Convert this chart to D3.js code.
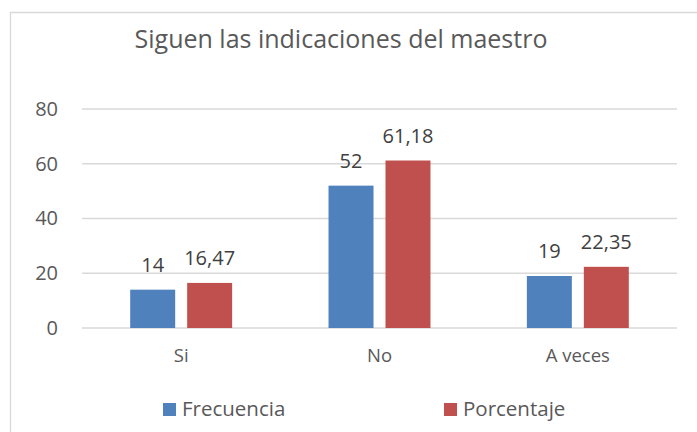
<!DOCTYPE html>
<html>
<head>
<meta charset="utf-8">
<script src="https://cdn.jsdelivr.net/npm/d3@7/dist/d3.min.js"></script>
<style>
  html, body { margin: 0; padding: 0; background: #fff; }
  svg { display: block; font-family: "Open Sans", "Noto Sans", sans-serif; }
</style>
</head>
<body>
<svg id="chart" width="697" height="432"></svg>
<script>
const title = "Siguen las indicaciones del maestro";
const categories = ["Si", "No", "A veces"];
const seriesNames = ["Frecuencia", "Porcentaje"];
const frecuencia = [14, 52, 19];
const porcentaje = [16.47, 61.18, 22.35];
const frecuenciaLabels = ["14", "52", "19"];
const porcentajeLabels = ["16,47", "61,18", "22,35"];
const yTicks = [0, 20, 40, 60, 80];
const colors = ["#4F81BD", "#C0504D"];

const svg = d3.select("#chart");
const W = 697, H = 432;
const plot = { left: 82, right: 677, top: 109, bottom: 328 };

// outer frame
svg.append("path")
  .attr("d", `M10.5,${H} L10.5,12.5 L${W},12.5`)
  .attr("fill", "none").attr("stroke", "#d9d9d9").attr("stroke-width", 1.3);

// title
svg.append("text")
  .attr("x", 341).attr("y", 48)
  .attr("text-anchor", "middle")
  .attr("font-size", 25).attr("fill", "#595959")
  .text(title);

const y = d3.scaleLinear().domain([0, 80]).range([plot.bottom, plot.top]);
const x0 = d3.scaleBand().domain(categories).range([plot.left, plot.right])
  .paddingInner(0.486).paddingOuter(0.243);
const x1 = d3.scaleBand().domain(seriesNames).range([0, x0.bandwidth()])
  .paddingInner(0.2105).paddingOuter(0);

// gridlines
svg.append("g").selectAll("line").data(yTicks).join("line")
  .attr("x1", plot.left).attr("x2", plot.right)
  .attr("y1", d => y(d)).attr("y2", d => y(d))
  .attr("stroke", "#d9d9d9").attr("stroke-width", 1.3);

// y axis labels
const yAxis = d3.axisLeft(y).tickValues(yTicks).tickSize(0).tickPadding(0)
  .tickFormat(d3.format("d"));
const gy = svg.append("g").attr("transform", `translate(58,0)`).call(yAxis);
gy.select(".domain").remove();
gy.selectAll("text").attr("font-size", 20).attr("fill", "#595959")
  .attr("font-family", "\"Open Sans\", sans-serif");

// x axis labels
const xAxis = d3.axisBottom(x0).tickSize(0).tickPadding(0);
const gx = svg.append("g").attr("transform", `translate(0,${plot.bottom})`).call(xAxis);
gx.select(".domain").remove();
gx.selectAll("text").attr("font-size", 18.5).attr("fill", "#595959")
  .attr("font-family", "\"Open Sans\", sans-serif")
  .attr("dy", null).attr("y", 34);

const rows = categories.map((c, i) => ({
  cat: c,
  vals: [
    { s: seriesNames[0], v: frecuencia[i], lab: frecuenciaLabels[i], col: colors[0] },
    { s: seriesNames[1], v: porcentaje[i], lab: porcentajeLabels[i], col: colors[1] }
  ]
}));

const groups = svg.append("g").selectAll("g").data(rows).join("g")
  .attr("transform", d => `translate(${x0(d.cat)},0)`);

groups.selectAll("rect").data(d => d.vals).join("rect")
  .attr("x", d => x1(d.s)).attr("width", x1.bandwidth())
  .attr("y", d => y(d.v)).attr("height", d => y(0) - y(d.v))
  .attr("fill", d => d.col);

groups.selectAll("text").data(d => d.vals).join("text")
  .attr("x", d => x1(d.s) + x1.bandwidth() / 2)
  .attr("y", d => y(d.v) - 17.5)
  .attr("text-anchor", "middle")
  .attr("font-size", 20).attr("fill", "#404040")
  .text(d => d.lab);

// legend
const legendPos = [163, 444];
const lg = svg.append("g").selectAll("g").data(seriesNames).join("g")
  .attr("transform", (d, i) => `translate(${legendPos[i]},403)`);
lg.append("rect").attr("width", 13).attr("height", 13)
  .attr("fill", (d, i) => colors[i]);
lg.append("text").attr("x", 19).attr("y", 13)
  .attr("font-size", 20.5).attr("fill", "#595959")
  .text(d => d);
</script>
</body>
</html>
